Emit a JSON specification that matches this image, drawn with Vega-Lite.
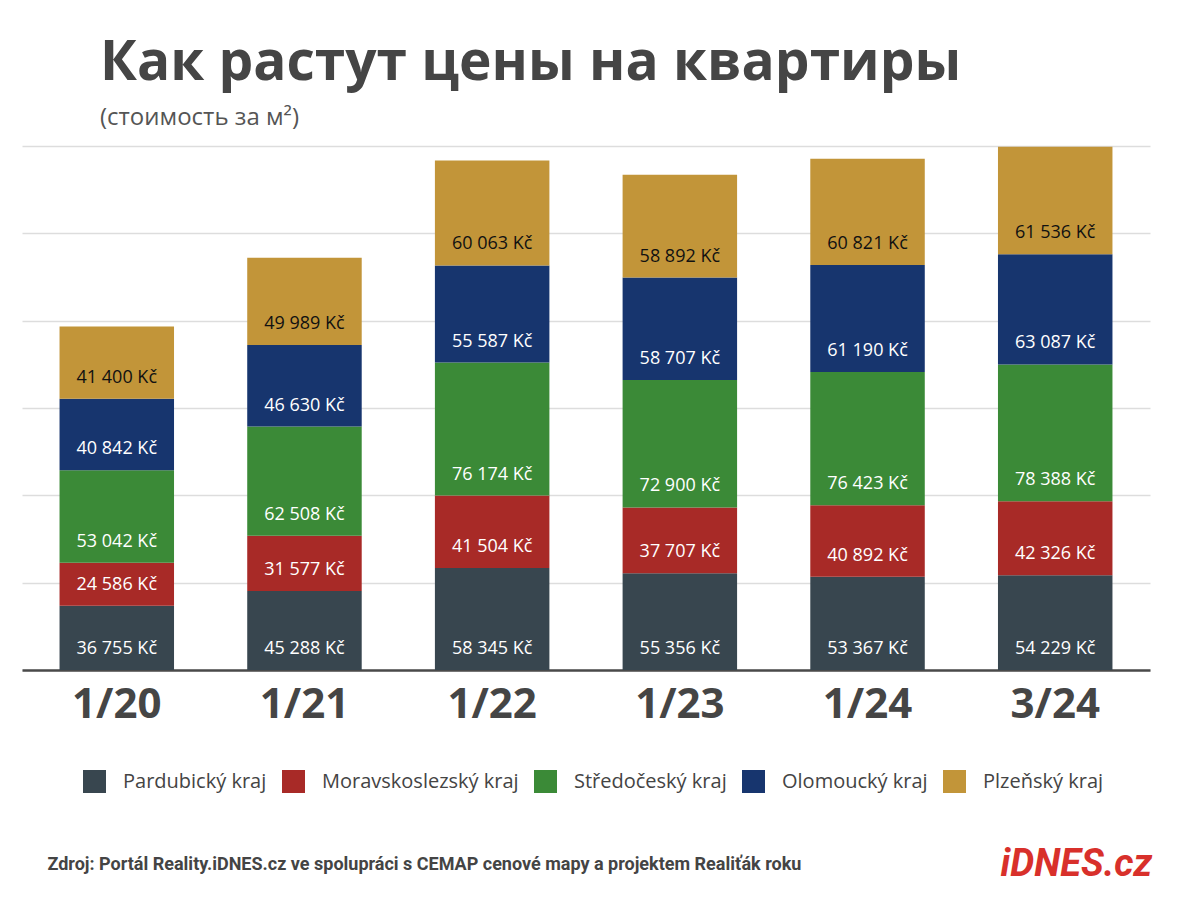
{
  "$schema": "https://vega.github.io/schema/vega-lite/v6.json",
  "width": 1128,
  "height": 524,
  "autosize": "none",
  "padding": {"left": 22, "top": 146, "right": 50, "bottom": 232},
  "background": "white",
  "title": {
    "text": "Как растут цены на квартиры",
    "subtitle": "(стоимость за м²)",
    "anchor": "start",
    "frame": "group",
    "dx": 78,
    "offset": 15,
    "font": "Open Sans",
    "fontSize": 55,
    "fontWeight": "bold",
    "color": "#454545",
    "subtitleFont": "Open Sans",
    "subtitleFontSize": 24,
    "subtitleColor": "#555555",
    "subtitlePadding": 14
  },
  "config": {
    "view": {"stroke": null},
    "locale": {
      "number": {"decimal": ",", "thousands": " ", "grouping": [3], "currency": ["", " Kč"]}
    }
  },
  "data": {
    "values": [
      {"period": "1/20", "region": "Pardubický kraj", "k": 1, "value": 36755},
      {"period": "1/20", "region": "Moravskoslezský kraj", "k": 2, "value": 24586},
      {"period": "1/20", "region": "Středočeský kraj", "k": 3, "value": 53042},
      {"period": "1/20", "region": "Olomoucký kraj", "k": 4, "value": 40842},
      {"period": "1/20", "region": "Plzeňský kraj", "k": 5, "value": 41400},
      {"period": "1/21", "region": "Pardubický kraj", "k": 1, "value": 45288},
      {"period": "1/21", "region": "Moravskoslezský kraj", "k": 2, "value": 31577},
      {"period": "1/21", "region": "Středočeský kraj", "k": 3, "value": 62508},
      {"period": "1/21", "region": "Olomoucký kraj", "k": 4, "value": 46630},
      {"period": "1/21", "region": "Plzeňský kraj", "k": 5, "value": 49989},
      {"period": "1/22", "region": "Pardubický kraj", "k": 1, "value": 58345},
      {"period": "1/22", "region": "Moravskoslezský kraj", "k": 2, "value": 41504},
      {"period": "1/22", "region": "Středočeský kraj", "k": 3, "value": 76174},
      {"period": "1/22", "region": "Olomoucký kraj", "k": 4, "value": 55587},
      {"period": "1/22", "region": "Plzeňský kraj", "k": 5, "value": 60063},
      {"period": "1/23", "region": "Pardubický kraj", "k": 1, "value": 55356},
      {"period": "1/23", "region": "Moravskoslezský kraj", "k": 2, "value": 37707},
      {"period": "1/23", "region": "Středočeský kraj", "k": 3, "value": 72900},
      {"period": "1/23", "region": "Olomoucký kraj", "k": 4, "value": 58707},
      {"period": "1/23", "region": "Plzeňský kraj", "k": 5, "value": 58892},
      {"period": "1/24", "region": "Pardubický kraj", "k": 1, "value": 53367},
      {"period": "1/24", "region": "Moravskoslezský kraj", "k": 2, "value": 40892},
      {"period": "1/24", "region": "Středočeský kraj", "k": 3, "value": 76423},
      {"period": "1/24", "region": "Olomoucký kraj", "k": 4, "value": 61190},
      {"period": "1/24", "region": "Plzeňský kraj", "k": 5, "value": 60821},
      {"period": "3/24", "region": "Pardubický kraj", "k": 1, "value": 54229},
      {"period": "3/24", "region": "Moravskoslezský kraj", "k": 2, "value": 42326},
      {"period": "3/24", "region": "Středočeský kraj", "k": 3, "value": 78388},
      {"period": "3/24", "region": "Olomoucký kraj", "k": 4, "value": 63087},
      {"period": "3/24", "region": "Plzeňský kraj", "k": 5, "value": 61536}
    ]
  },
  "encoding": {
    "x": {
      "field": "period",
      "type": "nominal",
      "sort": null,
      "scale": {"paddingInner": 0.39, "paddingOuter": 0.2},
      "axis": {
        "title": "Zdroj: Portál Reality.iDNES.cz ve spolupráci s CEMAP cenové mapy a projektem Realiťák roku",
        "titleFont": "Roboto",
        "titleFontSize": 18,
        "titleFontWeight": "bold",
        "titleColor": "#444444",
        "titleAnchor": "start",
        "titleAlign": "left",
        "titleBaseline": "alphabetic",
        "titleX": 25,
        "titleY": 199,
        "labelAngle": 0,
        "labelFont": "Open Sans",
        "labelFontSize": 42,
        "labelFontWeight": "bold",
        "labelColor": "#454545",
        "labelPadding": 14,
        "ticks": false,
        "domainColor": "#4a4a4a",
        "domainWidth": 2.5,
        "grid": false
      }
    }
  },
  "layer": [
    {
      "mark": {"type": "bar"},
      "encoding": {
        "y": {
          "field": "value",
          "type": "quantitative",
          "stack": "zero",
          "scale": {"domain": [0, 300000], "nice": false},
          "axis": {
            "title": "iDNES.cz",
            "titleFont": "Roboto",
            "titleFontSize": 38,
            "titleFontWeight": "bold",
            "titleFontStyle": "italic",
            "titleColor": "#d8302b",
            "titleAngle": 0,
            "titleAlign": "left",
            "titleBaseline": "alphabetic",
            "titleX": 978,
            "titleY": 729,
            "labels": false,
            "ticks": false,
            "domain": false,
            "values": [0, 50000, 100000, 150000, 200000, 250000, 300000],
            "gridColor": "#dddddd",
            "gridWidth": 1.5
          }
        },
        "color": {
          "field": "region",
          "type": "nominal",
          "sort": ["Pardubický kraj", "Moravskoslezský kraj", "Středočeský kraj", "Olomoucký kraj", "Plzeňský kraj"],
          "scale": {
            "domain": ["Pardubický kraj", "Moravskoslezský kraj", "Středočeský kraj", "Olomoucký kraj", "Plzeňský kraj"],
            "range": ["#38464f", "#a82a27", "#3b8a37", "#17356e", "#c29539"]
          },
          "legend": {
            "title": null,
            "orient": "none",
            "legendX": 61,
            "legendY": 624,
            "direction": "horizontal",
            "columns": 5,
            "symbolType": "square",
            "symbolSize": 529,
            "symbolStrokeWidth": 0,
            "symbolOpacity": 1,
            "labelFont": "Open Sans",
            "labelFontSize": 20,
            "labelColor": "#444444",
            "labelOffset": 17,
            "columnPadding": 15,
            "labelLimit": 300
          }
        },
        "order": {"field": "k", "type": "quantitative", "sort": "ascending"}
      }
    },
    {
      "transform": [
        {"stack": "value", "groupby": ["period"], "sort": [{"field": "k", "order": "ascending"}], "as": ["y0", "y1"]}
      ],
      "mark": {"type": "text", "font": "Open Sans", "fontSize": 18, "fontWeight": 500, "baseline": "middle", "align": "center", "dy": -21},
      "encoding": {
        "y": {"field": "y0", "type": "quantitative"},
        "text": {"field": "value", "type": "quantitative", "format": "$,.0f"},
        "color": {
          "condition": {"test": "datum.region === 'Plzeňský kraj'", "value": "#111111"},
          "value": "#ffffff"
        }
      }
    }
  ]
}
